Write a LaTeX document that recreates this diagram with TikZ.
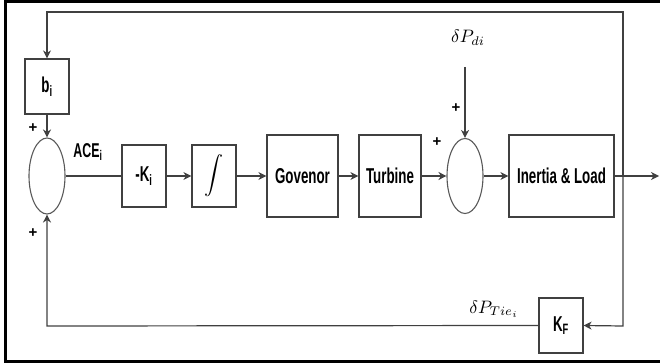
\documentclass[tikz,border=0pt]{standalone}
\usepackage{fontspec}
\newfontfamily\labfont[FakeStretch=0.62]{Liberation Sans}
\newfontfamily\plusfont{Liberation Sans}
\usetikzlibrary{arrows.meta,shapes.geometric}
\begin{document}
\begin{tikzpicture}[x=1pt,y=-1pt,
  ln/.style={draw=black!75, line width=1.2pt},
  arr/.style={ln, -{Stealth[length=8pt,width=8pt,inset=2.5pt]}},
  blk/.style={draw=black!75, line width=1.2pt, inner sep=0pt, font=\labfont\bfseries\fontsize{21.5}{24}\selectfont},
  sumnode/.style={ellipse, draw=black!65, line width=1.1pt, minimum width=36pt, minimum height=76pt, inner sep=0pt},
  plus/.style={font=\plusfont\bfseries\fontsize{15}{15}\selectfont, inner sep=0pt},
  mlab/.style={inner sep=0pt}]
\clip (0,0) rectangle (660,363);
\draw[line width=3pt] (670,1.5) -- (5.5,1.5) -- (5.5,361.5) -- (670,361.5);
% blocks
\node[blk, minimum width=44pt, minimum height=55pt] (bi) at (47,86.5) {b\textsubscript{i}};
\node[sumnode] (s1) at (47,176) {};
\node[blk, minimum width=44pt, minimum height=62pt] (k) at (144,176) {-K\textsubscript{i}};
\node[blk, minimum width=44pt, minimum height=62pt] (int) at (214,176) {\scalebox{1.9}{$\displaystyle\int$}};
\node[blk, minimum width=71pt, minimum height=82pt] (gov) at (302.5,176) {Govenor};
\node[blk, minimum width=62pt, minimum height=82pt] (tur) at (390,176) {Turbine};
\node[sumnode, minimum height=75pt] (s2) at (465,176) {};
\node[blk, minimum width=105pt, minimum height=82pt] (il) at (561.5,176) {Inertia \& Load};
\node[blk, minimum width=44pt, minimum height=55pt] (kf) at (561,325.5) {K\textsubscript{F}};
% labels
\node[mlab] (dpd) at (468,38) {\scalebox{1.8}{$\delta P_{di}$}};
\node[mlab] (dpt) at (494,309) {\scalebox{1.8}{$\delta P_{Tie_i}$}};
\node[font=\labfont\bfseries\fontsize{20}{20}\selectfont, inner sep=0pt] (ace) at (88,152) {ACE\textsubscript{i}};
\node[plus] (p1) at (33,128) {+};
\node[plus] (p2) at (33,233) {+};
\node[plus] (p3) at (456,108) {+};
\node[plus] (p4) at (437,142) {+};
% coordinates
\coordinate (out) at (659,176);
\coordinate (br) at (623,176);
\coordinate (tr) at (623,12);
\coordinate (tl) at (47,12);
\coordinate (kr) at (623,326);
\coordinate (bl) at (47,326);
\coordinate (dtop) at (465,67);
% connectors
\draw[arr] (br) -- (tr) -- (tl) -- (bi.north);
\draw[arr] (bi.south) -- (s1.north);
\draw[ln] (s1.east) -- (k.west);
\draw[arr] (k.east) -- (int.west);
\draw[arr] (int.east) -- (gov.west);
\draw[arr] (gov.east) -- (tur.west);
\draw[arr] (tur.east) -- (s2.west);
\draw[arr] (s2.east) -- (il.west);
\draw[arr] (il.east) -- (out);
\draw[arr] (br) -- (kr) -- (kf.east);
\draw[arr] (kf.west) -- (bl) -- (s1.south);
\draw[arr] (dtop) -- (s2.north);
\end{tikzpicture}
\end{document}
